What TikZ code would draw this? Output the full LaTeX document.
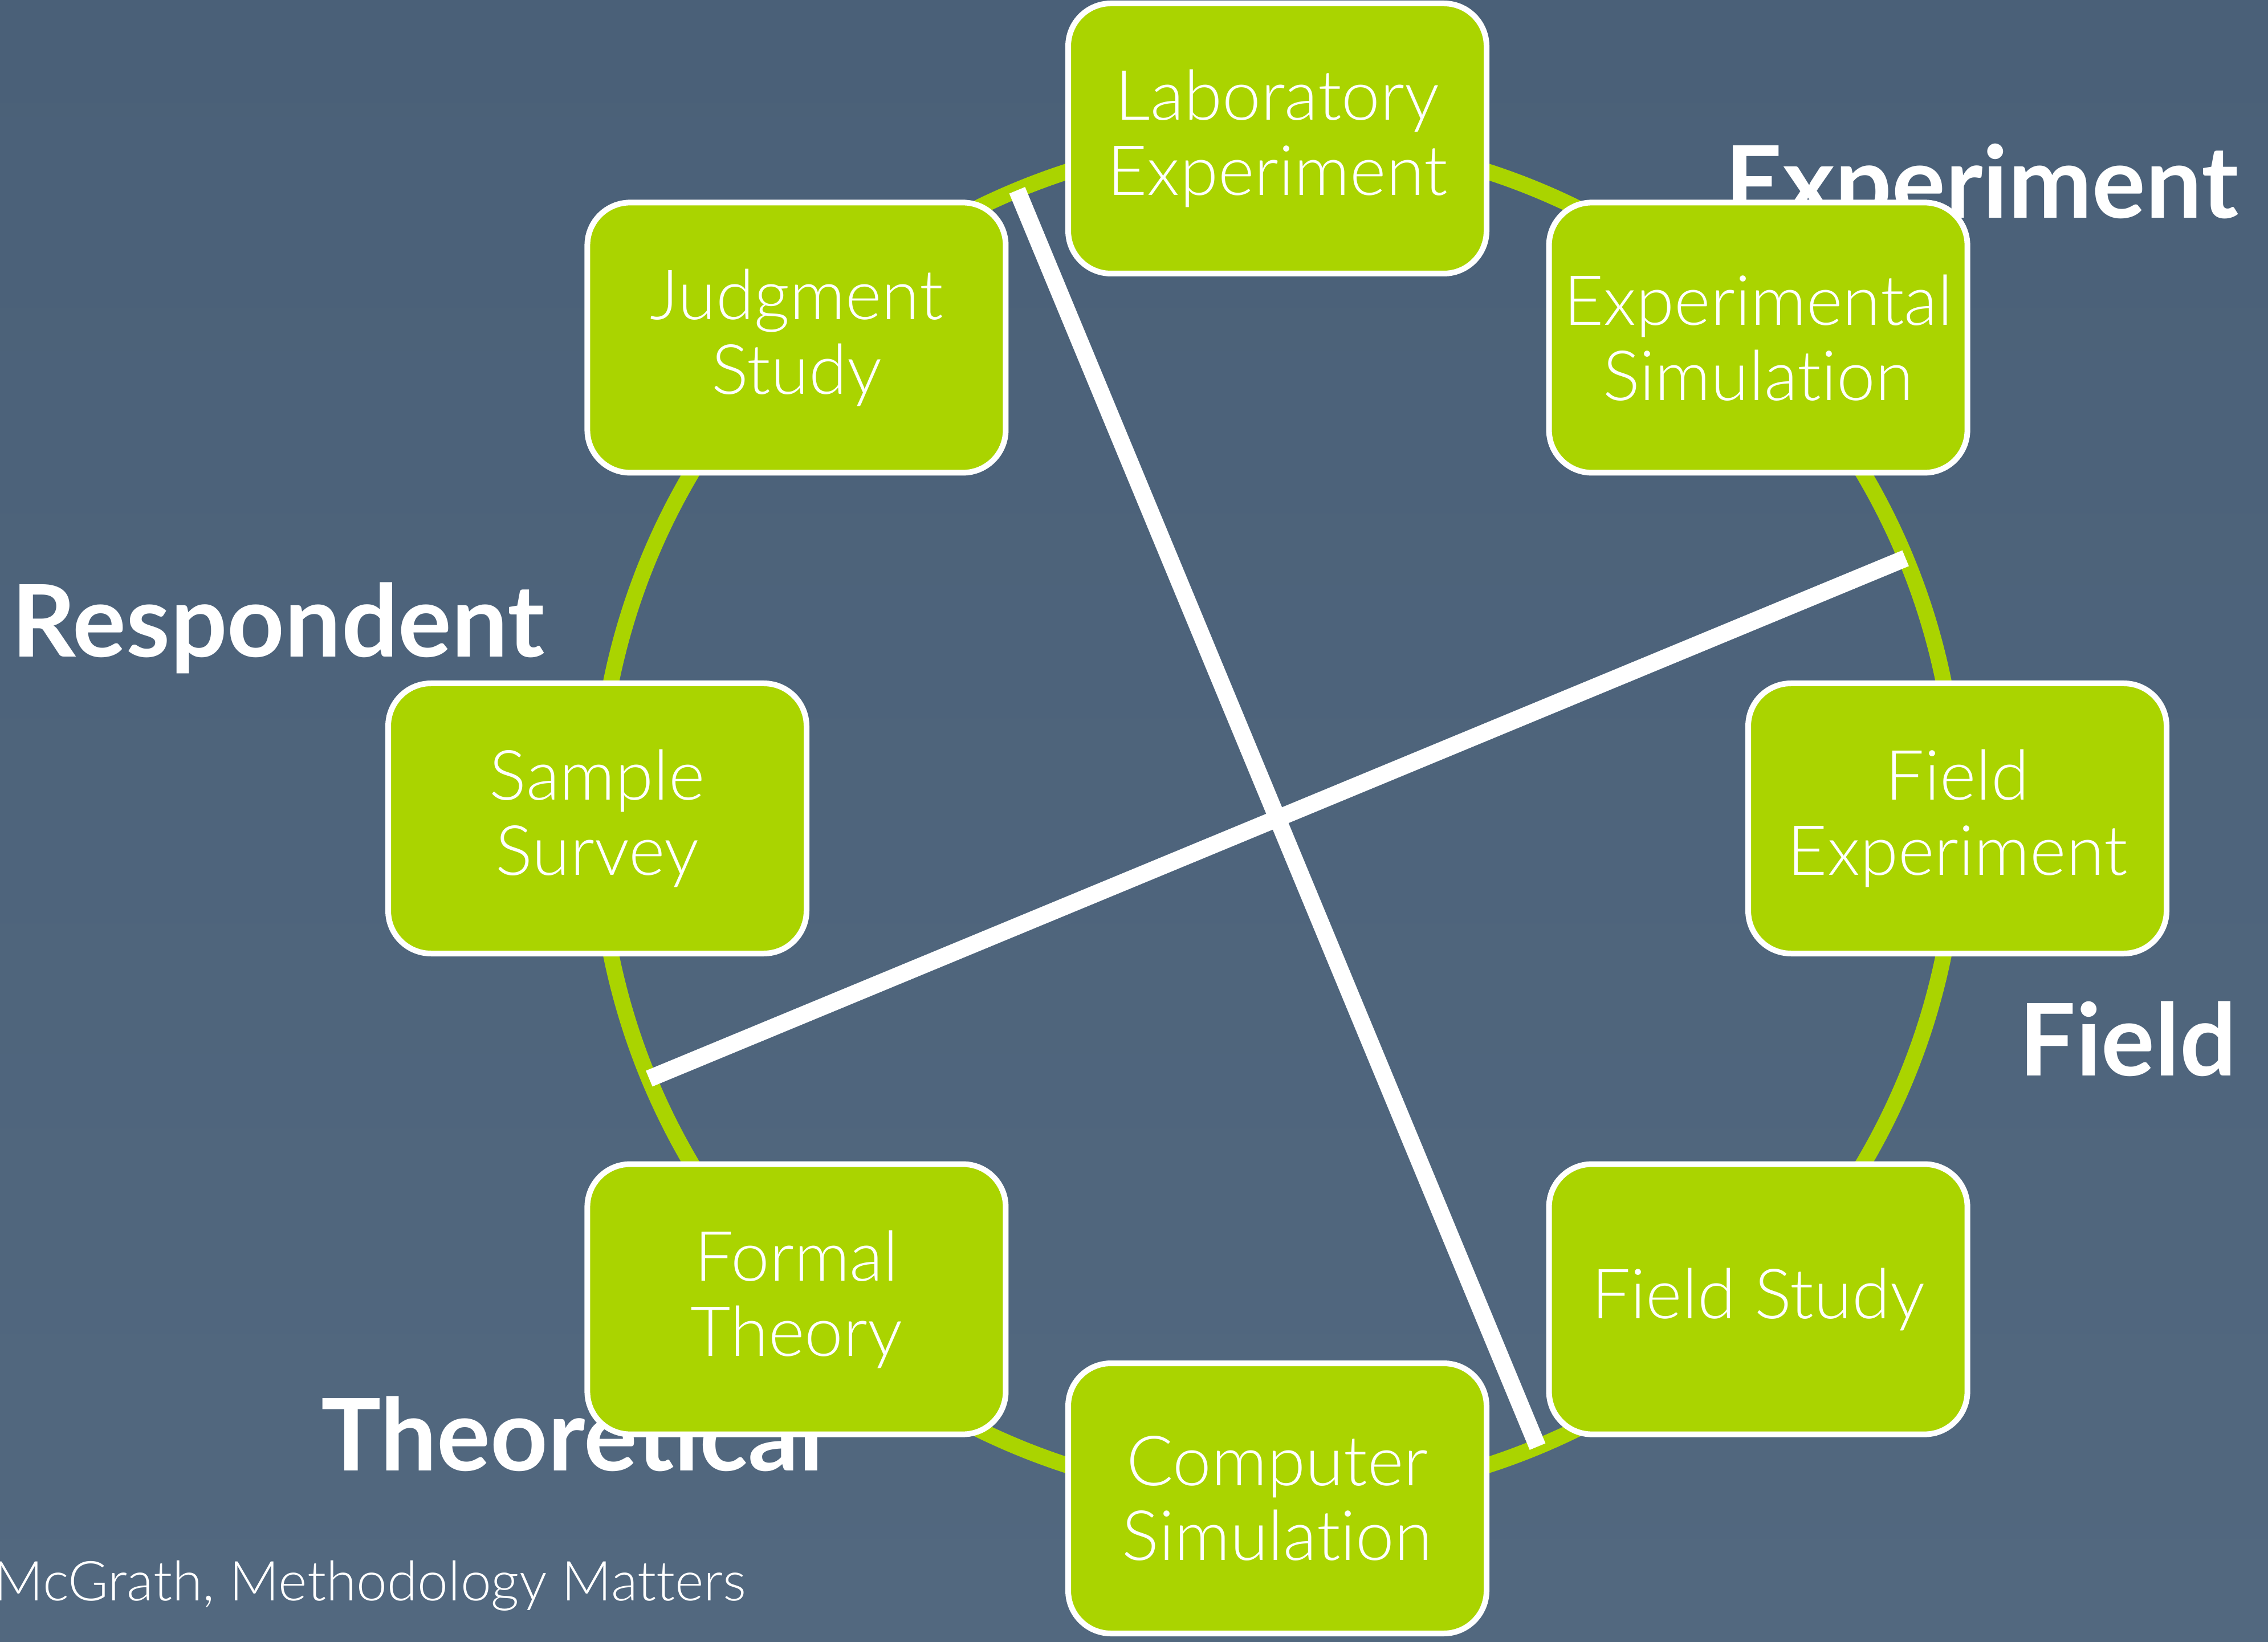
\documentclass[tikz,border=0pt]{standalone}
\usepackage{fontspec}
\setmainfont{Lato}[Ligatures=CommonOff]
\newfontfamily\lightfont{Lato Light}[Ligatures=CommonOff]
\usetikzlibrary{shadings}

\definecolor{bgtop}{RGB}{74,96,120}
\definecolor{bgbottom}{RGB}{82,104,127}
\definecolor{leaf}{RGB}{170,212,0}

\tikzset{
  ring/.style={draw=leaf, line width=0.28cm},
  divider/.style={draw=white, line width=0.3cm, line cap=butt},
  methodbox/.style={draw=white, line width=0.1cm, fill=leaf,
    rounded corners=0.75cm, minimum width=7.34cm, minimum height=4.74cm,
    align=center, text=white, inner sep=0pt,
    font=\lightfont\fontsize{34.6}{37.5}\selectfont},
  axislabel/.style={text=white, inner sep=0pt,
    font=\bfseries\fontsize{50}{54}\selectfont},
  credit/.style={text=white, inner sep=0pt,
    font=\lightfont\fontsize{27.5}{30}\selectfont}
}

\begin{document}
\begin{tikzpicture}
  % slide background
  \shade[top color=bgtop, bottom color=bgbottom] (0,0) rectangle (39.79,28.80);
  \useasboundingbox (0,0) rectangle (39.79,28.80);

  \coordinate (C) at (22.41,14.44);

  % the circumplex ring
  \begin{scope}[shift={(C)}]
    \draw[ring] (0,0) circle (11.93);
    \coordinate (dA1) at (112.5:11.93);
    \coordinate (dA2) at (-67.5:11.93);
    \coordinate (dB1) at (22.5:11.93);
    \coordinate (dB2) at (202.5:11.93);
  \end{scope}

  % strategy labels
  \node[axislabel, anchor=base west] (respondent) at (0.20,17.27) {Respondent};
  \node[axislabel, anchor=base west] (experiment) at (30.26,24.97) {Experiment};
  \node[axislabel, anchor=base west] (field) at (35.42,9.93) {Field};
  \node[axislabel, anchor=base west] (theoretical) at (5.63,3.00) {Theoretical};

  % source
  \node[credit, anchor=base west] (source) at (-0.12,0.72) {McGrath, Methodology Matters};

  % the two dividing diameters
  \draw[divider] (dA1) -- (dA2);
  \draw[divider] (dB1) -- (dB2);

  % research strategies around the ring
  \begin{scope}[shift={(C)}]
    \node[methodbox] (lab)    at (90:11.93)   {Laboratory\\Experiment};
    \node[methodbox] (expsim) at (45:11.93)   {Experimental\\Simulation};
    \node[methodbox] (fexp)   at (0:11.93)    {Field\\Experiment};
    \node[methodbox] (fstudy) at (-45:11.93)  {Field Study};
    \node[methodbox] (compsim) at (-90:11.93) {Computer\\Simulation};
    \node[methodbox] (formal) at (-135:11.93) {Formal\\Theory};
    \node[methodbox] (survey) at (180:11.93)  {Sample\\Survey};
    \node[methodbox] (judge)  at (135:11.93)  {Judgment\\Study};
  \end{scope}
\end{tikzpicture}
\end{document}
